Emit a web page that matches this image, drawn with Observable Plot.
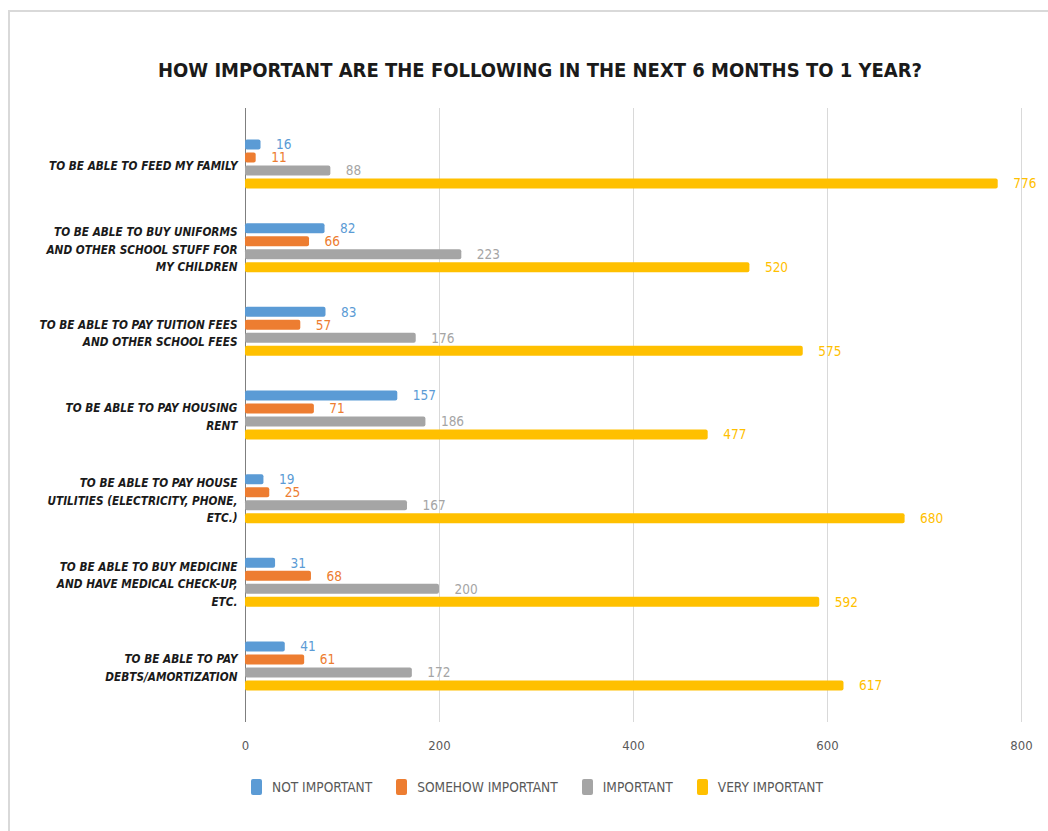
<!DOCTYPE html>
<html>
<head>
<meta charset="utf-8">
<script src="https://cdn.jsdelivr.net/npm/d3@7"></script>
<script src="https://cdn.jsdelivr.net/npm/@observablehq/plot@0.6"></script>
<style>
  html, body { margin: 0; padding: 0; background: #fff; overflow: hidden; }
  #root { position: relative; width: 1048px; height: 831px; overflow: hidden;
          font-family: "Liberation Sans Narrow", "Arial Narrow", "DejaVu Sans Condensed", sans-serif; }
  #frame { position: absolute; left: 8px; top: 10px; width: 1200px; height: 1000px;
           border-left: 2px solid #d9d9d9; border-top: 2px solid #d9d9d9; }
  #title { position: absolute; left: 0; top: 60px; width: 1080px; text-align: center;
           font-size: 20px; line-height: 1; font-weight: bold; color: #1a1a1a; }
  .layer { position: absolute; left: 0; top: 0; }
  #legend { position: absolute; left: 251px; top: 779px; height: 16px; display: flex;
            align-items: center; font-size: 13.6px; color: #595959; }
  .item { display: flex; align-items: center; margin-right: 24px; }
  .sw { width: 11px; height: 16px; border-radius: 2px; margin-right: 10px; }
</style>
</head>
<body>
<div id="root">
  <div id="frame"></div>
  <div id="title"></div>
  <div id="bg" class="layer"></div>
  <div id="fg" class="layer"></div>
  <div id="legend"></div>
</div>
<script>
const titleText = "HOW IMPORTANT ARE THE FOLLOWING IN THE NEXT 6 MONTHS TO 1 YEAR?";
const categories = [
  "TO BE ABLE TO FEED MY FAMILY",
  "TO BE ABLE TO BUY UNIFORMS\nAND OTHER SCHOOL STUFF FOR\nMY CHILDREN",
  "TO BE ABLE TO PAY TUITION FEES\nAND OTHER SCHOOL FEES",
  "TO BE ABLE TO PAY HOUSING\nRENT",
  "TO BE ABLE TO PAY HOUSE\nUTILITIES (ELECTRICITY, PHONE,\nETC.)",
  "TO BE ABLE TO BUY MEDICINE\nAND HAVE MEDICAL CHECK-UP,\nETC.",
  "TO BE ABLE TO PAY\nDEBTS/AMORTIZATION"
];
const series = ["NOT IMPORTANT", "SOMEHOW IMPORTANT", "IMPORTANT", "VERY IMPORTANT"];
const colors = ["#5B9BD5", "#ED7D31", "#A5A5A5", "#FFC000"];
const notImportant = [16, 82, 83, 157, 19, 31, 41];
const somehowImportant = [11, 66, 57, 71, 25, 68, 61];
const important = [88, 223, 176, 186, 167, 200, 172];
const veryImportant = [776, 520, 575, 477, 680, 592, 617];
const xTicks = [0, 200, 400, 600, 800];

const valuesBySeries = [notImportant, somehowImportant, important, veryImportant];
const rows = [];
categories.forEach((c, i) => {
  series.forEach((s, j) => rows.push({category: c, series: s, value: valuesBySeries[j][i]}));
});

document.getElementById("title").textContent = titleText;

const W = 1048, H = 760;
const common = {
  width: W, height: H,
  marginLeft: 245, marginRight: 27, marginTop: 108, marginBottom: 38
};
const font = '"Liberation Sans Narrow", "Arial Narrow", "DejaVu Sans Condensed", sans-serif';

const bg = Plot.plot({
  ...common,
  style: {background: "transparent", fontFamily: font, fontSize: "13px", color: "#595959"},
  x: {domain: [0, 800], ticks: xTicks, tickSize: 0, tickPadding: 18, label: null},
  y: {axis: null},
  marks: [
    Plot.ruleX(xTicks.filter(t => t !== 0), {stroke: "#d9d9d9", strokeWidth: 1}),
    Plot.ruleX([0], {stroke: "#7f7f7f", strokeWidth: 1})
  ]
});
document.getElementById("bg").appendChild(bg);

const fg = Plot.plot({
  ...common,
  style: {background: "transparent", fontFamily: font, fontSize: "13px"},
  x: {domain: [0, 800], axis: null},
  fy: {domain: categories, paddingInner: 0, paddingOuter: 0.17, round: false, axis: null, label: null},
  y: {domain: series, paddingInner: 0.23, paddingOuter: 1.33, round: false, axis: null, label: null},
  color: {domain: series, range: colors},
  marks: [
    Plot.barX(rows, {x: "value", y: "series", fy: "category", fill: "series", rx: 2}),
    Plot.text(rows, {x: "value", y: "series", fy: "category", text: d => String(d.value),
      fill: "series", dx: 15, textAnchor: "start", fontSize: 13.5}),
    Plot.text(categories, {fy: d => d, frameAnchor: "left", text: d => d, textAnchor: "end",
      dx: -8, fontSize: 11.7, fontWeight: "bold", fontStyle: "italic", lineHeight: 1.5, fill: "#1a1a1a"})
  ]
});
document.getElementById("fg").appendChild(fg);

const legend = document.getElementById("legend");
series.forEach((s, i) => {
  const item = document.createElement("div");
  item.className = "item";
  const sw = document.createElement("div");
  sw.className = "sw";
  sw.style.background = colors[i];
  const tx = document.createElement("span");
  tx.textContent = s;
  item.appendChild(sw);
  item.appendChild(tx);
  legend.appendChild(item);
});
</script>
</body>
</html>
